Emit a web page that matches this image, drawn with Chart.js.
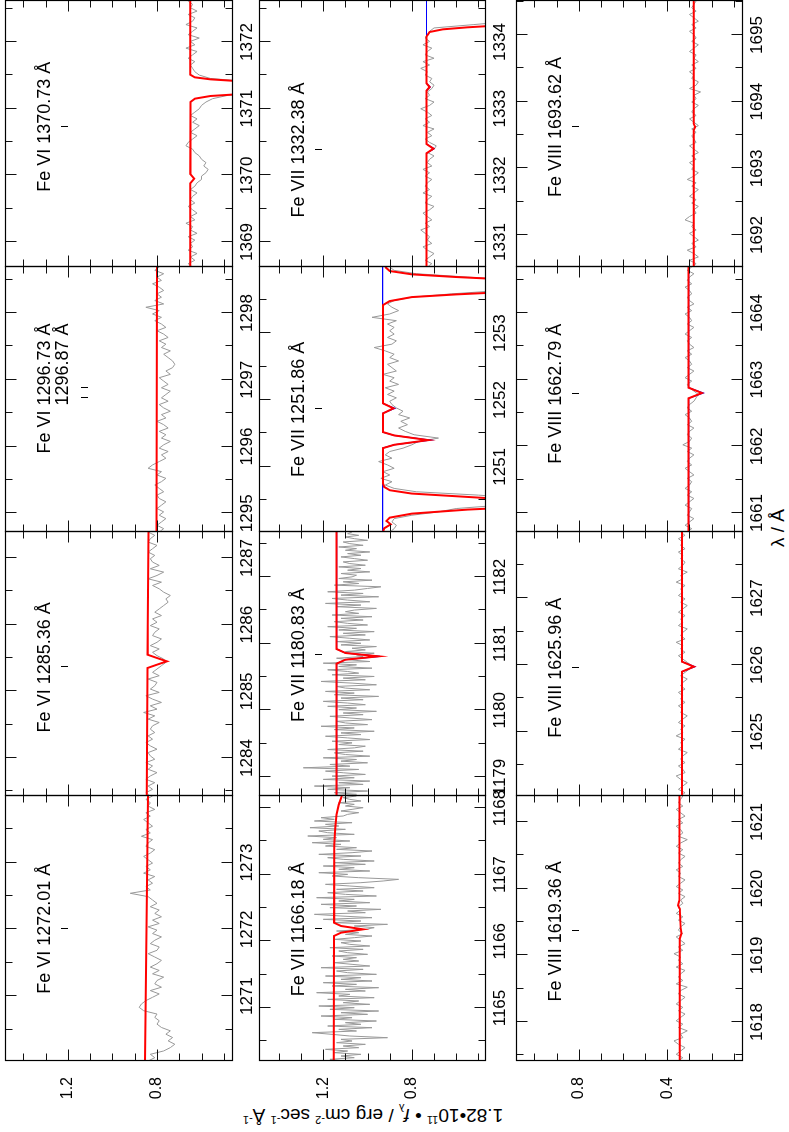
<!DOCTYPE html>
<html>
<head>
<meta charset="utf-8">
<script src="https://cdn.jsdelivr.net/npm/chart.js@4.4.1/dist/chart.umd.min.js"></script>
<style>
  html, body { margin: 0; padding: 0; background: #fff; overflow: hidden; }
  #sheet {
    position: absolute; left: 0; top: 0; width: 1132px; height: 789px;
    transform-origin: 0 0; transform: translate(0, 1132px) rotate(-90deg);
    background: #fff; font-family: "Liberation Sans", Arial, sans-serif; color: #000;
  }
  #sheet canvas { position: absolute; }
  .ttl { position: absolute; white-space: nowrap; text-align: center; font-size: 19px; line-height: 20px; }
  .ttl sup, .ttl sub { font-size: 11px; line-height: 0; }
</style>
</head>
<body>
<div id="sheet">
  <div class="ttl" id="ytitle" style="left:-183px; top:363px; width:400px; height:20px; transform:rotate(-90deg);">1.82•10<sup>11</sup> • <i>f</i><sub>λ</sub> / erg cm<sup>-2</sup> sec<sup>-1</sup> Å<sup>-1</sup></div>
  <div class="ttl" id="xtitle" style="left:504px; top:768px; width:200px; height:20px;">λ / Å</div>
</div>
<script>
// ---- panel windows (Å), in reading order: Fe VI row, Fe VII row, Fe VIII row ----
const ions = ['Fe VI', 'Fe VII', 'Fe VIII'];
const windows = [
  [1270.03, 1273.995], [1283.43, 1287.39], [1294.72, 1298.69], [1368.625, 1372.615],
  [1164.205, 1168.18], [1178.715, 1182.675], [1250.025, 1253.99], [1330.625, 1334.615],
  [1617.415, 1621.39], [1624.04, 1627.99], [1660.715, 1664.69], [1691.52, 1695.51]
];
const fluxRanges = [[0.463, 1.483], [0.470, 1.490], [0.063, 1.083]];

// identified line wavelengths per panel
const lineIds = [
  ['1272.01'], ['1285.36'], ['1296.73', '1296.87'], ['1370.73'],
  ['1166.18'], ['1180.83'], ['1251.86'], ['1332.38'],
  ['1619.36'], ['1625.96'], ['1662.79'], ['1693.62']
];

// tick labels
const waveTicks = [
  [1271, 1272, 1273], [1284, 1285, 1286, 1287], [1295, 1296, 1297, 1298], [1369, 1370, 1371, 1372],
  [1165, 1166, 1167, 1168], [1179, 1180, 1181, 1182], [1251, 1252, 1253], [1331, 1332, 1333, 1334],
  [1618, 1619, 1620, 1621], [1625, 1626, 1627], [1661, 1662, 1663, 1664], [1692, 1693, 1694, 1695]
];
const fluxTicks = [[0.8, 1.2], [0.8, 1.2], [0.4, 0.8]];

// ---- observed spectra: flux on an even grid spanning each window ----
const obs_FeVI_1272 = [0.84,0.81,0.83,0.77,0.74,0.72,0.75,0.73,0.76,0.74,0.78,0.80,0.79,0.81,0.80,0.86,0.88,0.87,0.85,
  0.82,0.79,0.83,0.78,0.81,0.80,0.77,0.82,0.79,0.83,0.80,0.78,0.81,0.84,0.80,0.79,0.83,0.81,0.78,0.82,0.80,0.84,0.79,
  0.82,0.78,0.81,0.79,0.83,0.80,0.82,0.84,0.92,0.83,0.85,0.82,0.84,0.81,0.86,0.83,0.85,0.82,0.84,0.86,0.83,0.81,0.85,
  0.84,0.82,0.87,0.83,0.85,0.82,0.84,0.86,0.83,0.85,0.81,0.84,0.83,0.85,0.82];
const obs_FeVI_1285 = [0.83,0.85,0.82,0.84,0.81,0.85,0.83,0.80,0.84,0.82,0.85,0.81,0.83,0.84,0.80,0.83,0.85,0.82,0.84,
  0.81,0.83,0.82,0.79,0.84,0.81,0.86,0.80,0.83,0.78,0.82,0.85,0.79,0.83,0.81,0.80,0.84,0.79,0.82,0.80,0.78,0.76,0.77,
  0.80,0.82,0.79,0.83,0.80,0.78,0.82,0.81,0.79,0.83,0.80,0.82,0.78,0.81,0.79,0.77,0.75,0.76,0.74,0.77,0.79,0.82,0.78,
  0.84,0.80,0.77,0.83,0.79,0.82,0.83,0.81,0.84,0.82,0.80,0.84,0.83,0.81,0.84];
const obs_FeVI_1296 = [0.79,0.77,0.80,0.78,0.76,0.79,0.77,0.80,0.78,0.76,0.79,0.80,0.77,0.79,0.81,0.78,0.76,0.80,0.78,
  0.84,0.82,0.79,0.76,0.78,0.75,0.79,0.77,0.74,0.78,0.76,0.79,0.75,0.77,0.80,0.76,0.78,0.74,0.77,0.79,0.75,0.78,0.76,
  0.74,0.78,0.75,0.77,0.79,0.74,0.76,0.73,0.72,0.73,0.75,0.77,0.74,0.78,0.76,0.79,0.75,0.77,0.80,0.76,0.78,0.81,0.78,
  0.82,0.79,0.85,0.77,0.81,0.78,0.80,0.77,0.79,0.82,0.78,0.80,0.77,0.81,0.79];
const obs_FeVI_1370 = [0.64,0.66,0.63,0.65,0.62,0.66,0.64,0.65,0.63,0.66,0.62,0.65,0.64,0.67,0.63,0.65,0.62,0.64,0.66,
  0.63,0.65,0.64,0.62,0.65,0.63,0.62,0.60,0.60,0.58,0.57,0.59,0.58,0.60,0.61,0.63,0.64,0.67,0.66,0.64,0.62,0.65,0.63,
  0.61,0.64,0.62,0.65,0.63,0.61,0.60,0.58,0.55,0.48,0.35,0.28,0.27,0.38,0.56,0.61,0.63,0.64,0.65,0.63,0.66,0.64,0.62,
  0.67,0.63,0.65,0.61,0.66,0.64,0.62,0.67,0.64,0.63,0.66,0.62,0.65,0.64,0.66];
const obs_FeVII_1166 = [1.10,1.17,1.06,1.12,1.03,1.15,1.09,1.19,1.04,1.11,1.01,1.14,1.07,
  1.12,0.91,1.08,1.16,1.25,1.05,1.13,0.98,
  1.18,1.03,1.10,0.96,1.15,1.07,1.21,1.00,1.12,0.95,1.17,
  1.06,1.22,0.99,1.11,1.04,1.18,0.97,1.13,1.08,1.23,1.01,1.10,0.95,1.16,1.05,1.20,0.98,1.12,1.03,1.19,0.96,1.09,1.14,1.02,1.21,0.99,1.07,1.15,1.04,
  1.11,1.05,1.16,1.00,1.09,1.13,1.02,1.17,0.99,1.08,1.12,1.03,1.15,1.06,0.98,1.10,1.04,1.14,1.01,0.97,1.06,
  0.91,
  1.15,1.03,1.20,0.98,1.12,1.24,1.01,1.09,0.94,1.17,1.05,1.21,0.99,1.13,1.06,1.23,0.96,1.10,1.18,1.02,1.14,0.97,1.08,1.19,1.03,0.93,
  0.86,
  1.04,1.16,1.09,1.22,0.99,1.13,1.06,1.20,1.01,1.15,0.97,1.11,1.18,1.03,1.22,1.07,0.98,1.14,1.05,1.19,
  1.12,1.25,1.08,1.20,1.14,1.27,1.06,1.18,1.22,1.10,1.26,1.13,1.19,1.07,1.24,1.15,1.21,1.11,
  1.09,1.04,1.12,1.07,1.02,1.10,1.06,1.13,1.03,1.08,1.11,1.05];
const obs_FeVII_1180 = [1.22,1.05,1.15,1.00,1.18,1.08,1.24,1.02,1.13,0.99,1.20,1.06,1.16,1.01,1.11,1.19,1.04,
  1.29,
  1.08,1.17,1.00,1.12,1.05,1.20,0.99,1.10,1.15,1.02,1.18,1.06,1.01,1.13,1.07,
  1.16,0.99,1.09,1.19,1.03,1.12,0.97,1.15,1.06,1.21,1.00,1.10,1.14,0.98,1.08,1.17,1.02,1.11,0.96,1.13,1.05,1.18,1.01,1.09,
  1.20,1.02,1.12,0.95,1.15,1.06,1.19,0.99,1.10,1.14,0.96,1.07,1.21,1.01,1.11,0.97,1.16,1.04,1.09,1.18,0.98,1.13,1.05,1.20,0.99,1.08,1.14,1.02,
  1.05,0.97,1.10,1.01,1.07,0.96,1.12,1.03,
  1.14,0.99,1.08,1.17,1.01,1.11,0.97,1.13,1.05,1.18,1.00,1.09,1.15,1.02,1.12,0.98,1.16,1.04,1.10,1.06,
  0.96,1.14,1.03,1.19,0.99,1.09,1.16,0.95,1.12,1.02,1.18,1.06,1.00,0.94,1.15,1.04,1.11,0.98,1.13,1.07,
  1.05,1.12,0.99,1.09,1.03,1.13,1.01,1.08,1.11,1.00,1.06,1.12,1.03,1.09,0.99,1.10,1.05,1.13,1.02,1.08,1.11,1.00,1.06,1.10,1.04,1.09,1.07];
const obs_FeVII_1251 = [0.90,0.88,0.87,0.89,0.88,0.80,0.68,0.60,0.40,0.28,0.30,0.50,0.78,0.88,0.92,0.89,0.94,0.90,0.93,
  0.88,0.91,0.95,0.89,0.92,0.90,0.84,0.80,0.77,0.68,0.79,0.83,0.86,0.82,0.85,0.81,0.86,0.84,0.87,0.89,0.90,0.87,0.91,
  0.88,0.92,0.86,0.90,0.88,0.93,0.87,0.89,0.91,0.86,0.90,0.88,0.92,0.97,0.89,0.87,0.91,0.88,0.90,0.88,0.91,0.87,0.98,
  0.90,0.86,0.89,0.91,0.88,0.80,0.62,0.40,0.28,0.30,0.32,0.55,0.78,0.88,0.90];
const obs_FeVII_1332 = [0.73,0.71,0.74,0.72,0.70,0.73,0.75,0.71,0.73,0.72,0.74,0.76,0.72,0.74,0.71,0.73,0.75,0.72,0.70,
  0.74,0.73,0.71,0.75,0.72,0.74,0.73,0.71,0.74,0.72,0.75,0.71,0.73,0.72,0.70,0.73,0.70,0.69,0.72,0.74,0.71,0.73,0.70,
  0.75,0.72,0.74,0.71,0.73,0.76,0.72,0.70,0.74,0.72,0.73,0.71,0.70,0.72,0.71,0.74,0.73,0.76,0.72,0.75,0.70,0.74,0.73,
  0.71,0.75,0.72,0.74,0.73,0.72,0.70,0.52,0.35,0.30,0.28,0.30,0.29,0.30,0.28];
const obs_FeVIII_1619 = [0.35,0.33,0.36,0.34,0.32,0.35,0.37,0.33,0.34,0.31,0.35,0.33,0.36,0.34,0.32,0.35,0.33,0.36,0.34,
  0.32,0.35,0.34,0.31,0.36,0.33,0.35,0.34,0.32,0.36,0.33,0.35,0.34,0.37,0.33,0.35,0.32,0.34,0.36,0.33,0.35,0.34,0.32,
  0.35,0.33,0.36,0.34,0.35,0.33,0.34,0.32,0.35,0.33,0.36,0.34,0.32,0.35,0.34,0.36,0.33,0.35,0.34,0.32,0.35,0.33,0.36,
  0.34,0.31,0.35,0.33,0.34,0.36,0.33,0.35,0.32,0.34,0.36,0.33,0.35,0.34,0.33];
const obs_FeVIII_1625 = [0.34,0.32,0.35,0.33,0.31,0.34,0.36,0.32,0.33,0.35,0.32,0.34,0.33,0.31,0.35,0.33,0.34,0.32,0.36,
  0.33,0.34,0.32,0.35,0.33,0.31,0.34,0.33,0.35,0.32,0.34,0.33,0.35,0.32,0.34,0.33,0.31,0.34,0.32,0.30,0.29,0.31,0.33,
  0.35,0.32,0.34,0.33,0.36,0.32,0.34,0.33,0.31,0.35,0.33,0.34,0.32,0.35,0.33,0.31,0.34,0.32,0.35,0.33,0.34,0.32,0.36,
  0.33,0.34,0.31,0.35,0.33,0.32,0.34,0.33,0.35,0.32,0.34,0.33,0.35,0.32,0.34];
const obs_FeVIII_1662 = [0.31,0.29,0.32,0.30,0.28,0.31,0.30,0.29,0.32,0.30,0.28,0.31,0.29,0.32,0.30,0.29,0.31,0.28,0.30,
  0.32,0.29,0.31,0.30,0.28,0.31,0.29,0.33,0.30,0.29,0.31,0.30,0.28,0.31,0.29,0.30,0.32,0.29,0.31,0.30,0.28,0.27,0.26,
  0.28,0.30,0.31,0.29,0.32,0.30,0.28,0.31,0.29,0.30,0.32,0.29,0.31,0.28,0.30,0.31,0.29,0.32,0.30,0.28,0.31,0.29,0.30,
  0.32,0.29,0.31,0.28,0.30,0.31,0.29,0.30,0.32,0.29,0.31,0.30,0.28,0.31,0.29];
const obs_FeVIII_1693 = [0.29,0.27,0.30,0.26,0.28,0.31,0.27,0.29,0.26,0.28,0.30,0.27,0.29,0.28,0.32,0.30,0.27,0.28,0.26,
  0.29,0.27,0.30,0.28,0.26,0.29,0.27,0.31,0.28,0.26,0.29,0.28,0.30,0.27,0.29,0.26,0.28,0.30,0.27,0.28,0.29,0.27,0.29,
  0.26,0.28,0.30,0.27,0.29,0.28,0.26,0.29,0.27,0.28,0.25,0.30,0.27,0.26,0.29,0.28,0.30,0.27,0.29,0.26,0.28,0.27,0.30,
  0.28,0.26,0.29,0.27,0.28,0.30,0.27,0.29,0.26,0.28,0.30,0.27,0.29,0.28,0.27];

// ---- model spectra: [wavelength, flux] nodes ----
const mod_FeVI_1272 = [[1270.03,0.854],[1273.995,0.841]];
const mod_FeVI_1285 = [[1283.43,0.846],[1285.35,0.843],[1285.40,0.80],[1285.45,0.756],[1285.50,0.80],[1285.55,0.843],[1287.39,0.838]];
const mod_FeVI_1296 = [[1294.72,0.802],[1298.69,0.800]];
const mod_FeVI_1370 = [[1368.625,0.651],[1369.88,0.651],[1369.95,0.633],[1370.02,0.651],[1371.10,0.650],[1371.15,0.63],
  [1371.19,0.56],[1371.22,0.42],[1371.26,0.25],[1371.38,0.25],[1371.41,0.42],[1371.44,0.56],[1371.47,0.63],[1371.51,0.651],[1372.615,0.651]];
const mod_FeVII_1166 = [[1164.205,1.153],[1166.08,1.152],[1166.13,1.12],[1166.18,1.02],[1166.23,1.12],[1166.28,1.152],
  [1167.45,1.150],[1167.70,1.146],[1167.90,1.140],[1168.05,1.130],[1168.18,1.116]];
const mod_FeVII_1180 = [[1178.715,1.14],[1180.70,1.14],[1180.76,1.10],[1180.81,0.951],[1180.86,1.10],[1180.92,1.14],[1182.675,1.14]];
const mod_FeVII_1251 = [[1250.025,0.93],[1250.08,0.925],[1250.14,0.895],[1250.19,0.915],[1250.24,0.90],[1250.30,0.80],
  [1250.36,0.55],[1250.40,0.30],[1250.50,0.30],[1250.55,0.55],[1250.60,0.80],[1250.65,0.90],[1250.70,0.925],[1250.75,0.93],
  [1251.28,0.93],[1251.33,0.88],[1251.40,0.726],[1251.47,0.88],[1251.52,0.93],[1251.80,0.93],[1251.875,0.883],[1251.95,0.93],
  [1253.42,0.93],[1253.48,0.90],[1253.54,0.80],[1253.58,0.60],[1253.62,0.35],[1253.80,0.35],[1253.84,0.60],[1253.88,0.80],
  [1253.93,0.90],[1253.99,0.92]];
const mod_FeVII_1332 = [[1330.625,0.734],[1332.33,0.734],[1332.40,0.703],[1332.47,0.734],[1333.27,0.734],[1333.325,0.72],
  [1333.38,0.734],[1334.08,0.734],[1334.15,0.72],[1334.19,0.66],[1334.22,0.55],[1334.25,0.40],[1334.30,0.30],[1334.615,0.28]];
const mod_FeVIII_1619 = [[1617.415,0.344],[1619.25,0.344],[1619.33,0.336],[1619.42,0.340],[1619.70,0.344],[1619.75,0.352],
  [1619.82,0.346],[1621.39,0.345]];
const mod_FeVIII_1625 = [[1624.04,0.334],[1625.90,0.334],[1625.975,0.28],[1626.05,0.334],[1627.99,0.334]];
const mod_FeVIII_1662 = [[1660.715,0.304],[1662.72,0.304],[1662.80,0.244],[1662.88,0.304],[1664.69,0.304]];
const mod_FeVIII_1693 = [[1691.52,0.281],[1693.57,0.281],[1693.62,0.274],[1693.67,0.281],[1695.51,0.281]];

// iron-only model (drawn beneath the full model)
const fe_FeVII_1180 = [[1178.715,1.14],[1180.70,1.14],[1180.76,1.10],[1180.81,0.944],[1180.86,1.10],[1180.92,1.14],[1182.675,1.14]];
const fe_FeVII_1251 = [[1250.025,0.932],[1251.28,0.932],[1251.33,0.88],[1251.40,0.718],[1251.47,0.88],[1251.52,0.932],
  [1251.80,0.932],[1251.875,0.877],[1251.95,0.932],[1253.99,0.932]];
const fe_FeVII_1332 = [[1330.625,0.734],[1332.33,0.734],[1332.40,0.700],[1332.47,0.734],[1333.27,0.734],[1333.325,0.718],
  [1333.38,0.734],[1334.615,0.734]];
const fe_FeVIII_1625 = [[1624.04,0.334],[1625.90,0.334],[1625.975,0.276],[1626.05,0.334],[1627.99,0.334]];
const fe_FeVIII_1662 = [[1660.715,0.304],[1662.72,0.304],[1662.80,0.238],[1662.88,0.304],[1664.69,0.304]];

const observed = [obs_FeVI_1272, obs_FeVI_1285, obs_FeVI_1296, obs_FeVI_1370,
  obs_FeVII_1166, obs_FeVII_1180, obs_FeVII_1251, obs_FeVII_1332,
  obs_FeVIII_1619, obs_FeVIII_1625, obs_FeVIII_1662, obs_FeVIII_1693];
const models = [mod_FeVI_1272, mod_FeVI_1285, mod_FeVI_1296, mod_FeVI_1370,
  mod_FeVII_1166, mod_FeVII_1180, mod_FeVII_1251, mod_FeVII_1332,
  mod_FeVIII_1619, mod_FeVIII_1625, mod_FeVIII_1662, mod_FeVIII_1693];
const ironModels = [null, null, null, null, null, fe_FeVII_1180, fe_FeVII_1251, fe_FeVII_1332,
  null, fe_FeVIII_1625, fe_FeVIII_1662, null];

// ---- page geometry of the panel grid (unrotated sheet coordinates) ----
const colLeft = [71, 336, 600, 865], colRight = [336, 600, 865, 1131];
const rowTop = [5, 259, 516], rowBottom = [232, 485, 742];
const yTickRoom = 40, xTickRoom = 30, pad = 2, side = 24;
const FONT = '"Liberation Sans", Arial, Helvetica, sans-serif';

Chart.defaults.font.family = FONT;
Chart.defaults.color = '#000';

function toPoints(pairs) { return pairs.map(p => ({x: p[0], y: p[1]})); }
function gridPoints(vals, lo, hi) {
  const step = (hi - lo) / (vals.length - 1);
  return vals.map((v, i) => ({x: lo + i * step, y: v}));
}

// frame with inward ticks on all four sides, plus the line identification
function panelDecor(idx, ion) {
  return {
    id: 'panelDecor',
    afterDatasetsDraw(chart) {
      const {ctx, chartArea: a} = chart;
      const xs = chart.scales.x, ys = chart.scales.y;
      const L = Math.round(a.left) + 0.5, R = Math.round(a.right) + 0.5;
      const T = Math.round(a.top) + 0.5, B = Math.round(a.bottom) + 0.5;
      ctx.save();
      ctx.strokeStyle = '#111';
      ctx.lineWidth = 1;
      ctx.beginPath();
      const h0 = Math.ceil(xs.min * 2 - 1e-6), h1 = Math.floor(xs.max * 2 + 1e-6);
      for (let k = h0; k <= h1; k++) {
        const px = Math.round(xs.getPixelForValue(k / 2)) + 0.5;
        const len = (k % 2 === 0) ? 11 : 7;
        ctx.moveTo(px, B); ctx.lineTo(px, B - len);
        ctx.moveTo(px, T); ctx.lineTo(px, T + len);
      }
      const t0 = Math.ceil(ys.min * 10 - 1e-6), t1 = Math.floor(ys.max * 10 + 1e-6);
      for (let k = t0; k <= t1; k++) {
        const py = Math.round(ys.getPixelForValue(k / 10)) + 0.5;
        const len = (k % 4 === 0) ? 11 : 7;
        ctx.moveTo(L, py); ctx.lineTo(L + len, py);
        ctx.moveTo(R, py); ctx.lineTo(R - len, py);
      }
      ctx.stroke();
      ctx.lineWidth = 1.2;
      ctx.strokeStyle = '#000';
      ctx.strokeRect(L, T, R - L, B - T);

      // identification text and markers
      const waves = lineIds[idx];
      const marks = waves.map(w => xs.getPixelForValue(parseFloat(w)));
      ctx.fillStyle = '#000';
      ctx.font = '18px ' + FONT;
      ctx.textBaseline = 'alphabetic';
      const line1 = ion + ' ' + waves[0] + ' Å';
      const w1 = ctx.measureText(line1).width;
      const cx = marks[marks.length - 1];
      const x1 = cx - w1 / 2;
      ctx.textAlign = 'left';
      ctx.fillText(line1, x1, a.top + 45);
      let base = a.top + 45;
      if (waves.length > 1) {
        ctx.textAlign = 'right';
        ctx.fillText(waves[1] + ' Å', x1 + w1, a.top + 63);
        base = a.top + 65;
      }
      ctx.lineWidth = 1;
      ctx.beginPath();
      marks.forEach(m => {
        const mx = Math.round(m) + 0.5;
        ctx.moveTo(mx, base + 11); ctx.lineTo(mx, base + 18);
      });
      ctx.stroke();
      ctx.restore();
    }
  };
}

// keep the plot area at its fixed size: no extra room for edge labels
function noEdgePadding(s) {
  s.paddingLeft = 0; s.paddingRight = 0; s.paddingTop = 0; s.paddingBottom = 0;
}

const sheet = document.getElementById('sheet');

windows.forEach((win, idx) => {
  const r = Math.floor(idx / 4), c = idx % 4;
  const showFlux = c === 0;
  const left = colLeft[c] - side - (showFlux ? yTickRoom : 0);
  const top = rowTop[r] - pad;
  const w = colRight[c] + side - left;
  const h = rowBottom[r] + xTickRoom - top;
  const cv = document.createElement('canvas');
  cv.width = w; cv.height = h;
  cv.style.left = left + 'px'; cv.style.top = top + 'px';
  cv.style.width = w + 'px'; cv.style.height = h + 'px';
  sheet.appendChild(cv);

  const datasets = [
    { data: toPoints(models[idx]), borderColor: '#ff0000', borderWidth: 2, pointRadius: 0, tension: 0, clip: 0 }
  ];
  if (ironModels[idx]) {
    datasets.push({ data: toPoints(ironModels[idx]), borderColor: '#0000ff', borderWidth: 1.2, pointRadius: 0, tension: 0, clip: 0 });
  }
  datasets.push({ data: gridPoints(observed[idx], win[0], win[1]), borderColor: '#999999', borderWidth: 1, pointRadius: 0, tension: 0, clip: 0 });

  new Chart(cv, {
    type: 'line',
    data: { datasets },
    options: {
      responsive: false, animation: false, devicePixelRatio: 1, events: [],
      layout: { padding: { left: side, right: side, top: pad, bottom: 0 } },
      plugins: { legend: { display: false }, tooltip: { enabled: false } },
      scales: {
        x: {
          type: 'linear', min: win[0], max: win[1], position: 'bottom',
          grid: { display: false, drawTicks: false }, border: { display: false },
          afterBuildTicks: s => { s.ticks = waveTicks[idx].map(v => ({ value: v })); },
          afterFit: s => { s.height = xTickRoom; noEdgePadding(s); },
          ticks: { autoSkip: false, maxRotation: 0, minRotation: 0, padding: 5,
                   font: { size: 17, family: FONT }, color: '#000', callback: v => String(v) }
        },
        y: {
          type: 'linear', min: fluxRanges[r][0], max: fluxRanges[r][1], display: showFlux, position: 'left',
          grid: { display: false, drawTicks: false }, border: { display: false },
          afterBuildTicks: s => { s.ticks = fluxTicks[r].map(v => ({ value: v })); },
          afterFit: s => { s.width = showFlux ? yTickRoom : 0; noEdgePadding(s); },
          ticks: { padding: 16, font: { size: 16, family: FONT }, color: '#000', callback: v => v.toFixed(1) }
        }
      }
    },
    plugins: [panelDecor(idx, ions[r])]
  });
});
</script>
</body>
</html>
